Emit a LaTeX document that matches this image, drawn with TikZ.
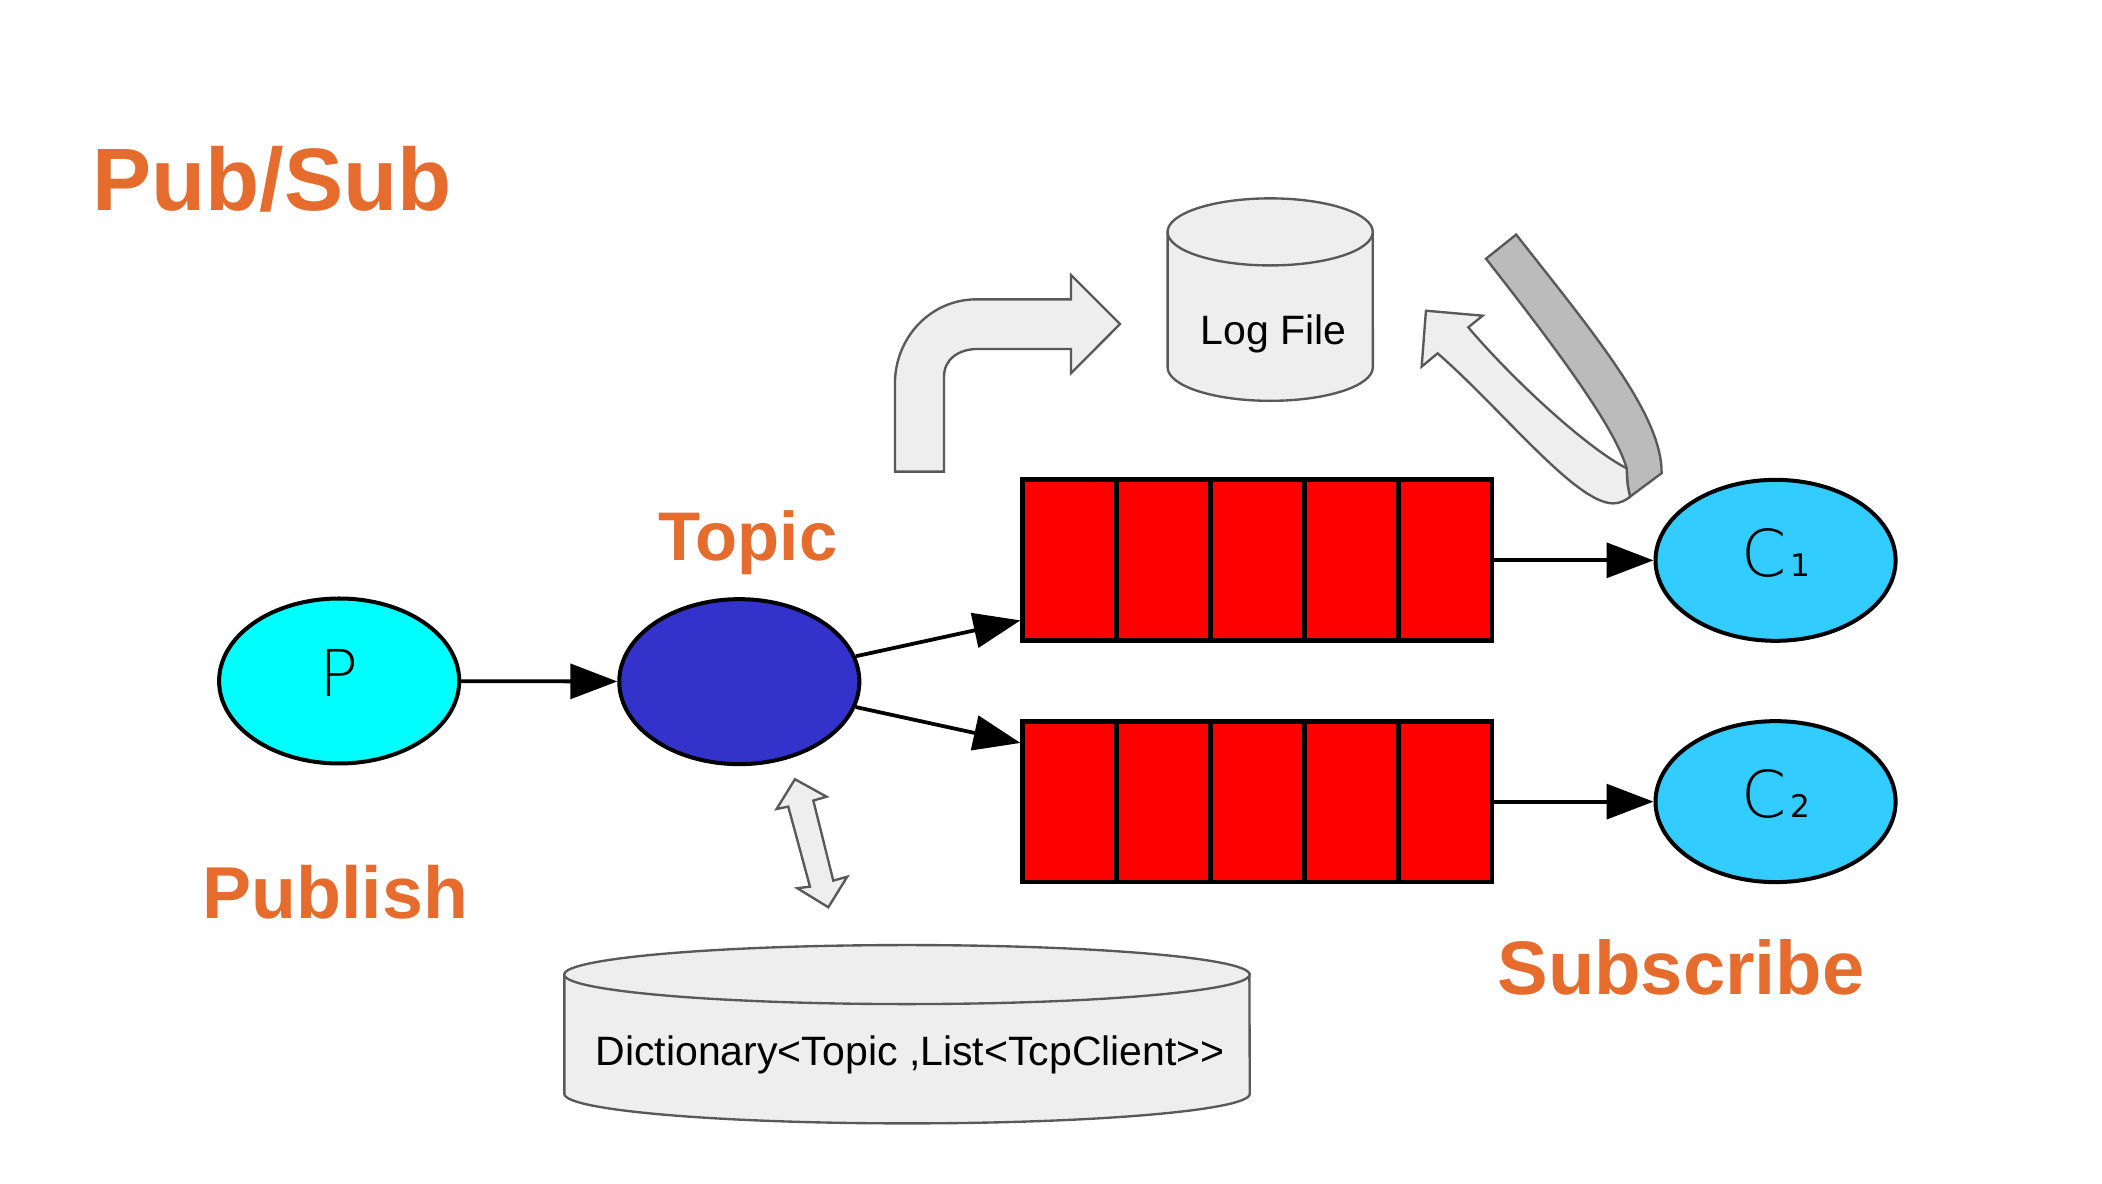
\documentclass[tikz,border=0pt]{standalone}
\usepackage{fontspec}
\setmainfont{Liberation Sans}
\newfontfamily\thinfont{DejaVu Sans ExtraLight}
\newfontfamily\digitfont{DejaVu Sans}
\usepackage{tikz}
\usetikzlibrary{arrows.meta, shapes.geometric}
\definecolor{labelorange}{RGB}{230,108,46}
\definecolor{pubcyan}{RGB}{0,255,255}
\definecolor{topicblue}{RGB}{51,51,204}
\definecolor{subblue}{RGB}{51,204,255}
\definecolor{boxgray}{RGB}{238,238,238}
\definecolor{ribbongray}{RGB}{187,187,187}
\definecolor{linegray}{RGB}{89,89,89}
\tikzset{
  client/.style={ellipse, draw=black, line width=0.85pt, minimum width=1.79cm, minimum height=1.23cm, inner sep=0pt, text depth=0.12cm, font=\thinfont\fontsize{13.7}{14}\selectfont},
  qcell/.style={rectangle, draw=black, fill=red, line width=1pt, minimum width=0.7cm, minimum height=1.2cm, inner sep=0pt},
  edge/.style={line width=0.8pt, -{Triangle[length=0.35cm, width=0.26cm]}},
  bigarrow/.style={fill=boxgray, draw=linegray, line width=0.5pt},
  heading/.style={anchor=base, inner sep=0pt, text=labelorange, font=\bfseries\fontsize{#1}{#1}\selectfont},
  store/.style={anchor=base, inner sep=0pt, font=\fontsize{8.7}{9}\selectfont},
}
\newcommand{\sub}[1]{\kern0.03cm{\digitfont\fontsize{6.6}{7}\selectfont #1}}

\begin{document}
\begin{tikzpicture}[x=0.01cm, y=-0.01cm]
\useasboundingbox (0,0) rectangle (1568,883);

\node[heading=18.8] (title) at (203,157) {Pub/Sub};
\node[heading=14.6] (topiclbl) at (558,418) {Topic};
\node[heading=15.6] (publbl) at (250,685) {Publish};
\node[heading=16.1] (sublbl) at (1254,742) {Subscribe};

\node[client, fill=pubcyan] (p) at (253,508) {P};
\node[client, fill=topicblue] (topic) at (551.5,508.5) {};
\node[client, fill=subblue, minimum height=1.2cm] (c1) at (1324.5,418) {C\sub{1}};
\node[client, fill=subblue, minimum height=1.2cm] (c2) at (1324.5,598) {C\sub{2}};

\foreach \i in {1,...,5} {
  \node[qcell] (qa\i) at (728+70*\i,418) {};
  \node[qcell] (qb\i) at (728+70*\i,598) {};
}

\draw[edge] (p) -- (topic);
\draw[edge] (topic) -- ([yshift=0.17cm]qa1.south west);
\draw[edge] (topic) -- ([yshift=-0.18cm]qb1.north west);
\draw[edge] (qa5.east) -- (c1);
\draw[edge] (qb5.east) -- (c2);

\draw[bigarrow] (871,173) -- (871,274) arc[start angle=180, end angle=360, x radius=0.765cm, y radius=0.25cm] -- (1024,173) -- cycle;
\draw[bigarrow] (947.5,173) ellipse [x radius=0.765cm, y radius=0.25cm];
\node[store] (logfile) at (950,257) {Log File};

\draw[bigarrow] (421,727) -- (421,816) arc[start angle=180, end angle=360, x radius=2.555cm, y radius=0.22cm] -- (932,727) -- cycle;
\draw[bigarrow] (676.5,727) ellipse [x radius=2.555cm, y radius=0.22cm];
\node[store] (dict) at (679,795) {Dictionary<Topic ,List<TcpClient>{}>};

\draw[bigarrow] (667.6,351.8) -- (667.6,286) .. controls (667.6,252) and (694,223.3) .. (728.5,223.3) -- (798.9,223.3) -- (798.9,205.1) -- (835.5,241.7) -- (798.9,278.5) -- (798.9,260.3) -- (729.8,260.3) .. controls (715,260.3) and (704.2,268) .. (704.2,281) -- (704.2,351.8) -- cycle;

\draw[bigarrow] (593,581.3) -- (616.6,594.3) -- (606.7,597.2) -- (621.6,656.9) -- (632,654) -- (617.9,676.8) -- (594.8,662.6) -- (604.2,661.4) -- (588,601.7) -- (579.3,603.5) -- cycle;

\draw[bigarrow, fill=ribbongray] (1131,175) .. controls (1190,250) and (1240,310) .. (1239.5,353) -- (1216,370.5) .. controls (1214,362) .. (1213.4,349.3) .. controls (1205,320) and (1165,265) .. (1108.5,193) -- cycle;
\draw[bigarrow] (1072.4,263.6) .. controls (1120,305) and (1175,375) .. (1203,375.5) .. controls (1209,375.5) and (1213,373) .. (1216,370.5) .. controls (1214,362) .. (1213.4,349.3) .. controls (1185,335) and (1130,285) .. (1095.3,244.2) -- (1106,235.5) -- (1063.7,231.8) -- (1060.5,273.5) -- cycle;

\end{tikzpicture}
\end{document}
